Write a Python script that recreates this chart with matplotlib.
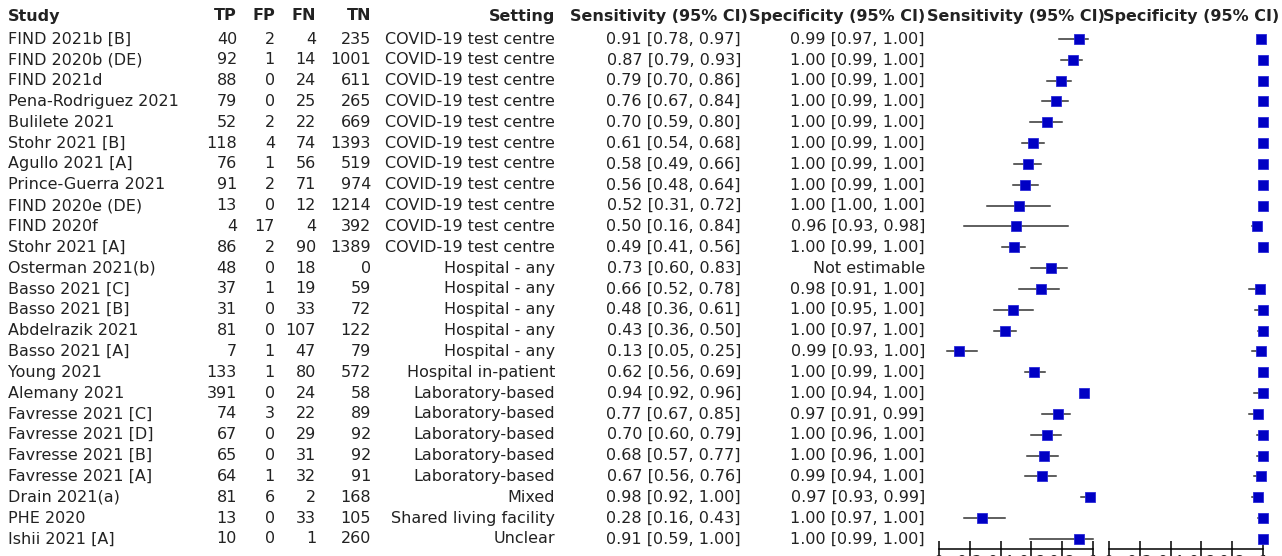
import matplotlib
matplotlib.use("Agg")
import matplotlib.pyplot as plt

studies = ["FIND 2021b [B]", "FIND 2020b (DE)", "FIND 2021d", "Pena-Rodriguez 2021",
           "Bulilete 2021", "Stohr 2021 [B]", "Agullo 2021 [A]", "Prince-Guerra 2021",
           "FIND 2020e (DE)", "FIND 2020f", "Stohr 2021 [A]", "Osterman 2021(b)",
           "Basso 2021 [C]", "Basso 2021 [B]", "Abdelrazik 2021", "Basso 2021 [A]",
           "Young 2021", "Alemany 2021", "Favresse 2021 [C]", "Favresse 2021 [D]",
           "Favresse 2021 [B]", "Favresse 2021 [A]", "Drain 2021(a)", "PHE 2020",
           "Ishii 2021 [A]"]
tp = [40, 92, 88, 79, 52, 118, 76, 91, 13, 4, 86, 48, 37, 31, 81, 7, 133, 391, 74, 67, 65, 64, 81, 13, 10]
fp = [2, 1, 0, 0, 2, 4, 1, 2, 0, 17, 2, 0, 1, 0, 0, 1, 1, 0, 3, 0, 0, 1, 6, 0, 0]
fn = [4, 14, 24, 25, 22, 74, 56, 71, 12, 4, 90, 18, 19, 33, 107, 47, 80, 24, 22, 29, 31, 32, 2, 33, 1]
tn = [235, 1001, 611, 265, 669, 1393, 519, 974, 1214, 392, 1389, 0, 59, 72, 122, 79, 572, 58, 89, 92, 92, 91, 168, 105, 260]
setting = ["COVID-19 test centre"] * 11 + ["Hospital - any"] * 5 + ["Hospital in-patient"] + \
          ["Laboratory-based"] * 5 + ["Mixed", "Shared living facility", "Unclear"]

sens = [0.91, 0.87, 0.79, 0.76, 0.70, 0.61, 0.58, 0.56, 0.52, 0.50, 0.49, 0.73, 0.66, 0.48, 0.43,
        0.13, 0.62, 0.94, 0.77, 0.70, 0.68, 0.67, 0.98, 0.28, 0.91]
sens_lo = [0.78, 0.79, 0.70, 0.67, 0.59, 0.54, 0.49, 0.48, 0.31, 0.16, 0.41, 0.60, 0.52, 0.36, 0.36,
           0.05, 0.56, 0.92, 0.67, 0.60, 0.57, 0.56, 0.92, 0.16, 0.59]
sens_hi = [0.97, 0.93, 0.86, 0.84, 0.80, 0.68, 0.66, 0.64, 0.72, 0.84, 0.56, 0.83, 0.78, 0.61, 0.50,
           0.25, 0.69, 0.96, 0.85, 0.79, 0.77, 0.76, 1.00, 0.43, 1.00]
spec = [0.99, 1.00, 1.00, 1.00, 1.00, 1.00, 1.00, 1.00, 1.00, 0.96, 1.00, None, 0.98, 1.00, 1.00,
        0.99, 1.00, 1.00, 0.97, 1.00, 1.00, 0.99, 0.97, 1.00, 1.00]
spec_lo = [0.97, 0.99, 0.99, 0.99, 0.99, 0.99, 0.99, 0.99, 1.00, 0.93, 0.99, None, 0.91, 0.95, 0.97,
           0.93, 0.99, 0.94, 0.91, 0.96, 0.96, 0.94, 0.93, 0.97, 0.99]
spec_hi = [1.00, 1.00, 1.00, 1.00, 1.00, 1.00, 1.00, 1.00, 1.00, 0.98, 1.00, None, 1.00, 1.00, 1.00,
           1.00, 1.00, 1.00, 0.99, 1.00, 1.00, 1.00, 0.99, 1.00, 1.00]
ticks = [0, 0.2, 0.4, 0.6, 0.8, 1]
tick_labels = ["0", "0.2", "0.4", "0.6", "0.8", "1"]

W, H = 1282, 556
FS = 11.5
blue = "#0000c4"

fig = plt.figure(figsize=(W / 100, H / 100), dpi=100)

# row geometry in pixels
y0, dy = 39, 20.83
n = len(studies)
axis_px = 549

# text table
ax = fig.add_axes([0, 0, 1, 1])
ax.set_xlim(0, W)
ax.set_ylim((H - y0) / dy, -y0 / dy)
ax.axis("off")

hdr_y = (16 - y0) / dy
cols = [("Study", 8, "left"), ("TP", 237, "right"), ("FP", 275, "right"), ("FN", 316, "right"),
        ("TN", 371, "right"), ("Setting", 555, "right"), ("Sensitivity (95% CI)", 748, "right"),
        ("Specificity (95% CI)", 925, "right"),
        ("Sensitivity (95% CI)", 1016, "center"), ("Specificity (95% CI)", 1191, "center")]
for label, x, ha in cols:
    ax.text(x, hdr_y, label, ha=ha, va="center", fontsize=FS, fontweight="bold", color="#222222")

for i in range(n):
    kw = dict(va="center", fontsize=FS, color="#222222")
    ax.text(8, i, studies[i], ha="left", **kw)
    ax.text(237, i, str(tp[i]), ha="right", **kw)
    ax.text(275, i, str(fp[i]), ha="right", **kw)
    ax.text(316, i, str(fn[i]), ha="right", **kw)
    ax.text(371, i, str(tn[i]), ha="right", **kw)
    ax.text(555, i, setting[i], ha="right", **kw)
    ax.text(741, i, "%.2f [%.2f, %.2f]" % (sens[i], sens_lo[i], sens_hi[i]), ha="right", **kw)
    if spec[i] is None:
        ax.text(925, i, "Not estimable", ha="right", **kw)
    else:
        ax.text(925, i, "%.2f [%.2f, %.2f]" % (spec[i], spec_lo[i], spec_hi[i]), ha="right", **kw)


def forest(left_px, est, lo, hi):
    fa = fig.add_axes([left_px / W, (H - axis_px) / H, 154 / W, axis_px / H])
    fa.set_xlim(0, 1)
    fa.set_ylim((axis_px - y0) / dy, -y0 / dy)
    fa.patch.set_alpha(0)
    for s in ["top", "left", "right"]:
        fa.spines[s].set_visible(False)
    fa.spines["bottom"].set_linewidth(1.1)
    fa.set_yticks([])
    fa.set_xticks(ticks)
    fa.set_xticklabels(tick_labels)
    fa.tick_params(axis="x", direction="inout", length=12, width=1.1, pad=-1.5, labelsize=FS,
                   labelcolor="#222222")
    for i in range(n):
        if est[i] is None:
            continue
        fa.plot([lo[i], hi[i]], [i, i], color="#333333", lw=1.1, clip_on=False, zorder=2)
        fa.plot([est[i]], [i], marker="s", ms=6.8, color=blue, mec="#2a2ad8", mew=0.6,
                clip_on=False, zorder=3)
    return fa


forest(939, sens, sens_lo, sens_hi)
forest(1109, spec, spec_lo, spec_hi)

fig.savefig("out.png", dpi=100)
